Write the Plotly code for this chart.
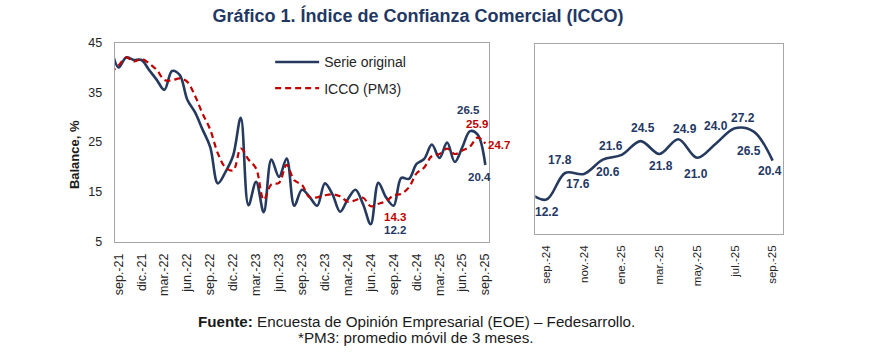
import plotly.graph_objects as go

# ---------------- data ----------------
months = [
    "ago.-21", "sep.-21", "oct.-21", "nov.-21", "dic.-21",
    "ene.-22", "feb.-22", "mar.-22", "abr.-22", "may.-22", "jun.-22",
    "jul.-22", "ago.-22", "sep.-22", "oct.-22", "nov.-22", "dic.-22",
    "ene.-23", "feb.-23", "mar.-23", "abr.-23", "may.-23", "jun.-23",
    "jul.-23", "ago.-23", "sep.-23", "oct.-23", "nov.-23", "dic.-23",
    "ene.-24", "feb.-24", "mar.-24", "abr.-24", "may.-24", "jun.-24",
    "jul.-24", "ago.-24", "sep.-24", "oct.-24", "nov.-24", "dic.-24",
    "ene.-25", "feb.-25", "mar.-25", "abr.-25", "may.-25", "jun.-25",
    "jul.-25", "ago.-25", "sep.-25",
]

serie_original = [
    44.5, 40.0, 42.0, 41.5, 41.5,
    39.5, 37.5, 35.5, 39.3, 38.5, 33.5,
    31.0, 27.5, 24.0, 16.7, 19.0, 22.3,
    29.9, 12.3, 17.0, 10.9, 21.5, 18.0,
    21.7, 12.2, 15.4, 14.0, 12.2, 16.7,
    14.5, 11.0, 13.5, 15.4, 12.5, 8.5,
    16.8, 13.9, 12.2, 17.8, 17.6, 20.6,
    21.6, 24.5, 21.8, 24.9, 21.0, 24.0,
    27.2, 26.5, 20.4,
]

icco_pm3 = [
    39.0, 40.4, 42.0, 41.2, 41.7,
    40.8, 39.5, 37.5, 37.4, 37.8, 37.1,
    34.3, 30.7, 27.5, 22.7, 19.9, 19.3,
    23.7, 21.5, 19.7, 13.4, 16.5, 16.8,
    20.4, 17.3, 16.4, 13.9, 13.9, 14.3,
    14.5, 14.1, 13.0, 13.3, 13.8, 12.1,
    12.6, 13.1, 14.3, 14.6, 15.9, 18.7,
    19.9, 22.2, 22.6, 23.7, 22.6, 23.3,
    24.1, 25.9, 24.7,
]

left_ticks = months[1::3]          # sep.-21, dic.-21, ... sep.-25
right_months = months[36:]         # ago.-24 ... sep.-25
right_values = serie_original[36:]
right_ticks = months[37::2]        # sep.-24, nov.-24, ... sep.-25

y_ticks = [5, 15, 25, 35, 45]

NAVY = "#253A5E"
RED = "#C00000"
LABEL_NAVY = "#1F3864"
FONT = "Liberation Sans, Arial, sans-serif"

fig = go.Figure()

fig.add_trace(go.Scatter(
    x=months, y=serie_original, name="Serie original", mode="lines",
    line=dict(color=NAVY, width=2.6, shape="spline", smoothing=1.0),
    legendgroup="a", xaxis="x", yaxis="y"))
fig.add_trace(go.Scatter(
    x=months, y=icco_pm3, name="ICCO (PM3)", mode="lines",
    line=dict(color=RED, width=2.2, dash="6px,4px", shape="spline", smoothing=1.0),
    legendgroup="b", xaxis="x", yaxis="y"))
fig.add_trace(go.Scatter(
    x=right_months, y=right_values, name="Serie original", mode="lines",
    line=dict(color=NAVY, width=2.6, shape="spline", smoothing=1.0),
    showlegend=False, xaxis="x2", yaxis="y2"))

W, H = 875, 362

axis_common = dict(showgrid=False, zeroline=False, showline=True, mirror=True,
                   linecolor="#A6A6A6", linewidth=1)

fig.update_layout(
    width=W, height=H,
    margin=dict(l=0, r=0, t=0, b=0),
    paper_bgcolor="white", plot_bgcolor="white",
    font=dict(family=FONT, color="#262626"),
    showlegend=True,
    legend=dict(x=269 / W, y=1 - 41 / H, xanchor="left", yanchor="top",
                bgcolor="rgba(0,0,0,0)", font=dict(size=14, color="#262626"),
                traceorder="grouped", tracegroupgap=5, itemwidth=44),
    title=dict(text="<b>Gráfico 1. Índice de Confianza Comercial (ICCO)</b>",
               x=418 / W, y=1 - 16 / H, xanchor="center", yanchor="middle",
               font=dict(size=18, color="#1F3864", family=FONT)),
    xaxis=dict(domain=[112.5 / W, 489.5 / W], type="category",
               categoryorder="array", categoryarray=months,
               range=[0.5, len(months) - 0.5],
               tickmode="array", tickvals=left_ticks, ticktext=left_ticks,
               tickangle=-90, ticks="outside", ticklen=6,
               tickcolor="rgba(0,0,0,0)",
               tickfont=dict(size=12.5, color="#262626"), **axis_common),
    yaxis=dict(domain=[1 - 244 / H, 1 - 37 / H], range=[5, 45],
               tickmode="array", tickvals=y_ticks, ticks="outside", ticklen=9,
               tickcolor="rgba(0,0,0,0)",
               tickfont=dict(size=12.5, color="#262626"), **axis_common),
    xaxis2=dict(domain=[536 / W, 785 / W], type="category",
                categoryorder="array", categoryarray=right_months,
                range=[0.42, len(right_months) - 0.47],
                tickmode="array", tickvals=right_ticks, ticktext=right_ticks,
                tickangle=-90, ticks="outside", ticklen=6,
                tickcolor="rgba(0,0,0,0)",
                tickfont=dict(size=11.5, color="#262626"),
                anchor="y2", **axis_common),
    yaxis2=dict(domain=[1 - 236 / H, 1 - 38 / H], range=[5, 45],
                showticklabels=False, anchor="x2", **axis_common),
)

annotations = []

# y-axis title
annotations.append(dict(text="<b>Balance, %</b>", x=62 / W, y=1 - 154 / H,
                        xref="paper", yref="paper", showarrow=False,
                        textangle=-90, font=dict(size=13, color="#1a1a1a")))

# left panel labels: (month, value, text, color, xshift, yshift)
left_labels = [
    ("ago.-25", 26.5, "26.5", LABEL_NAVY, -9, 25),
    ("ago.-25", 25.9, "25.9", RED, -1, 14),
    ("sep.-25", 24.7, "24.7", RED, 14, -1),
    ("sep.-25", 20.4, "20.4", LABEL_NAVY, -6, -12),
    ("sep.-24", 14.3, "14.3", RED, 1, -22),
    ("sep.-24", 12.2, "12.2", LABEL_NAVY, 1, -24),
]
for m, v, t, c, dx, dy in left_labels:
    annotations.append(dict(x=m, y=v, xref="x", yref="y", text=f"<b>{t}</b>",
                            showarrow=False, xshift=dx, yshift=dy,
                            font=dict(size=11.5, color=c)))

right_labels = [
    ("sep.-24", 12.2, 1, -12),
    ("oct.-24", 17.8, -5, 13),
    ("nov.-24", 17.6, -6, -10),
    ("dic.-24", 20.6, 5, -12),
    ("ene.-25", 21.6, -11, 9),
    ("feb.-25", 24.5, 2, 13),
    ("mar.-25", 21.8, 2, -12),
    ("abr.-25", 24.9, 7, 10),
    ("may.-25", 21.0, -1, -16),
    ("jun.-25", 24.0, 0, 17),
    ("jul.-25", 27.2, 8, 10),
    ("ago.-25", 26.5, -5, -19),
    ("sep.-25", 20.4, -3, -10),
]
for m, v, dx, dy in right_labels:
    annotations.append(dict(x=m, y=v, xref="x2", yref="y2", text=f"<b>{v:.1f}</b>",
                            showarrow=False, xshift=dx, yshift=dy,
                            font=dict(size=12, color=LABEL_NAVY)))

# footer
annotations.append(dict(
    text="<b>Fuente:</b> Encuesta de Opinión Empresarial (EOE) – Fedesarrollo.",
    x=416 / W, y=1 - 327 / H, xref="paper", yref="paper", showarrow=False,
    xanchor="center", yanchor="middle", font=dict(size=15.2, color="#1a1a1a")))
annotations.append(dict(
    text="*PM3: promedio móvil de 3 meses.",
    x=416 / W, y=1 - 344 / H, xref="paper", yref="paper", showarrow=False,
    xanchor="center", yanchor="middle", font=dict(size=15.2, color="#1a1a1a")))

fig.update_layout(annotations=annotations)

fig.write_html("out.html", config={"displayModeBar": False},
               post_script="document.body.style.margin='0';")
